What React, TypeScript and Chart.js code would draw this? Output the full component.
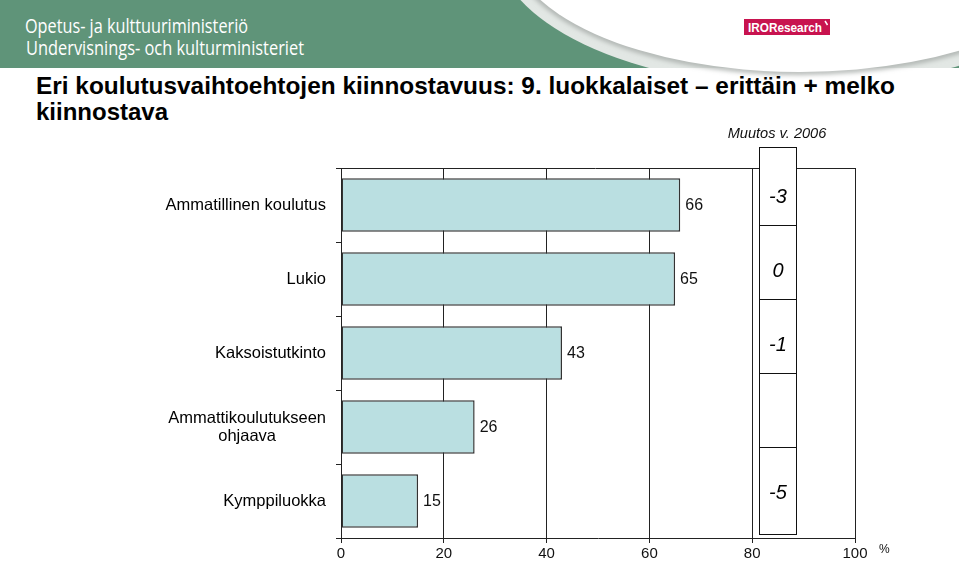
import React, { useEffect, useRef } from "react";
import { Chart, registerables } from "chart.js";

Chart.register(...registerables);

// ---- data ----
const categories: (string | string[])[] = [
  "Ammatillinen koulutus",
  "Lukio",
  "Kaksoistutkinto",
  ["Ammattikoulutukseen", "ohjaava"],
  "Kymppiluokka",
];
const values = [66, 65, 43, 26, 15];
const changes: (number | null)[] = [-3, 0, -1, null, -5];
const xTicks = [0, 20, 40, 60, 80, 100];
const changeHeader = "Muutos v. 2006";
const unitLabel = "%";
const titleLines = [
  "Eri koulutusvaihtoehtojen kiinnostavuus: 9. luokkalaiset – erittäin + melko",
  "kiinnostava",
];
const ministryLines = ["Opetus- ja kulttuuriministeriö", "Undervisnings- och kulturministeriet"];
const brand = "IROResearch";

const FONT = "'Liberation Sans', Arial, Helvetica, sans-serif";

const overlay = {
  id: "overlay",
  afterDraw(chart: any) {
    const { ctx, chartArea } = chart;
    const xs = chart.scales.x;
    const ys = chart.scales.y;
    ctx.save();

    // top border of plot
    ctx.strokeStyle = "#222";
    ctx.lineWidth = 1;
    const ty = Math.round(chartArea.top) + 0.5;
    ctx.beginPath();
    ctx.moveTo(chartArea.left - 5, ty);
    ctx.lineTo(chartArea.right, ty);
    ctx.stroke();

    // category labels
    ctx.fillStyle = "#000";
    ctx.font = `16.5px ${FONT}`;
    ctx.textBaseline = "middle";
    const rx = chartArea.left - 15;
    categories.forEach((lab, i) => {
      const cy = ys.getPixelForValue(i);
      const lines = Array.isArray(lab) ? lab : [lab];
      const w = Math.max(...lines.map((l) => ctx.measureText(l).width));
      const lh = 18;
      lines.forEach((l, j) => {
        const ly = cy + (j - (lines.length - 1) / 2) * lh;
        if (lines.length > 1) {
          ctx.textAlign = "center";
          ctx.fillText(l, rx - w / 2, ly);
        } else {
          ctx.textAlign = "right";
          ctx.fillText(l, rx, ly);
        }
      });
    });

    // value labels
    ctx.textAlign = "left";
    ctx.fillStyle = "#111";
    ctx.font = `16px ${FONT}`;
    values.forEach((v, i) => {
      ctx.fillText(String(v), xs.getPixelForValue(v) + 5, ys.getPixelForValue(i) + 1);
    });

    // change column
    const cl = Math.round(xs.getPixelForValue(81.4)) + 0.5;
    const cr = Math.round(xs.getPixelForValue(88.6)) + 0.5;
    const ct = Math.round(chartArea.top - 21) + 0.5;
    const cb = Math.round(chartArea.bottom - 4) + 0.5;
    ctx.fillStyle = "#fff";
    ctx.fillRect(cl, ct, cr - cl, cb - ct);
    ctx.strokeStyle = "#111";
    ctx.lineWidth = 1;
    ctx.strokeRect(cl, ct, cr - cl, cb - ct);
    for (let i = 1; i < categories.length; i++) {
      const by = Math.round((ys.getPixelForValue(i - 1) + ys.getPixelForValue(i)) / 2 - 17) + 0.5;
      ctx.beginPath();
      ctx.moveTo(cl, by);
      ctx.lineTo(cr, by);
      ctx.stroke();
    }
    ctx.fillStyle = "#000";
    ctx.font = `italic 20px ${FONT}`;
    ctx.textAlign = "center";
    changes.forEach((c, i) => {
      if (c === null) return;
      ctx.fillText(String(c), (cl + cr) / 2, ys.getPixelForValue(i) - 8);
    });

    // column header
    ctx.font = `italic 14.6px ${FONT}`;
    ctx.fillStyle = "#111";
    ctx.fillText(changeHeader, (cl + cr) / 2 - 1, chartArea.top - 34);

    // unit
    ctx.font = `12px ${FONT}`;
    ctx.textAlign = "left";
    ctx.fillText(unitLabel, chartArea.right + 24, chartArea.bottom + 12);

    ctx.restore();
  },
};

function BarChart() {
  const ref = useRef<HTMLCanvasElement | null>(null);
  useEffect(() => {
    if (!ref.current) return;
    const chart = new Chart(ref.current, {
      type: "bar",
      data: {
        labels: categories as any,
        datasets: [
          {
            data: values,
            backgroundColor: "#badfe1",
            borderColor: "#333",
            borderWidth: 1.5,
            borderSkipped: false,
            barPercentage: 0.72,
            categoryPercentage: 1,
          },
        ],
      },
      options: {
        indexAxis: "y",
        responsive: false,
        animation: false,
        devicePixelRatio: 1,
        layout: { padding: { top: 168, right: 104, left: 0, bottom: 0 } },
        plugins: { legend: { display: false }, tooltip: { enabled: false } },
        scales: {
          x: {
            min: 0,
            max: 100,
            afterBuildTicks: (s: any) => {
              s.ticks = xTicks.map((v) => ({ value: v }));
            },
            ticks: { font: { size: 15, family: FONT }, color: "#111", padding: 2 },
            grid: { color: "#222", lineWidth: 1, tickLength: 5 },
            border: { color: "#222" },
            afterFit: (s: any) => {
              s.height = 23;
            },
          },
          y: {
            grid: { offset: true, drawOnChartArea: false, tickLength: 5, color: "#222" },
            border: { color: "#222" },
            ticks: { display: false },
            afterFit: (s: any) => {
              s.width = 341;
            },
          },
        },
      } as any,
      plugins: [overlay],
    });
    return () => chart.destroy();
  }, []);
  return <canvas ref={ref} width={959} height={561} style={{ display: "block" }} />;
}

export default function App() {
  return (
    <div style={{ position: "absolute", left: 0, top: 0, width: 959, height: 561, background: "#fff", overflow: "hidden" }}>
      <svg width={959} height={140} style={{ position: "absolute", left: 0, top: 0 }}>
        <defs>
          <clipPath id="band">
            <rect x={0} y={0} width={959} height={68} />
          </clipPath>
          <clipPath id="band2">
            <rect x={0} y={0} width={959} height={80} />
          </clipPath>
          <filter id="blur" x="-20%" y="-20%" width="140%" height="140%">
            <feGaussianBlur stdDeviation="2.5" />
          </filter>
        </defs>
        <rect x={0} y={0} width={959} height={68} fill="#5f9479" />
        <g clipPath="url(#band)">
          <ellipse cx={800} cy={-58} rx={305} ry={145} fill="#e2e7e4" />
        </g>
        <g clipPath="url(#band2)">
          <ellipse cx={800} cy={-58} rx={290} ry={130} fill="none" stroke="#a5aaa7" strokeWidth={5} filter="url(#blur)" />
          <ellipse cx={800} cy={-58} rx={290} ry={130} fill="#fff" />
        </g>
        <text x={25} y={33} fill="#fff" fontFamily="'Open Sans', 'Noto Sans', sans-serif" fontSize={20} textLength={223} lengthAdjust="spacingAndGlyphs">
          {ministryLines[0]}
        </text>
        <text x={26} y={55} fill="#fff" fontFamily="'Open Sans', 'Noto Sans', sans-serif" fontSize={20} textLength={278} lengthAdjust="spacingAndGlyphs">
          {ministryLines[1]}
        </text>
        <rect x={744} y={19} width={86} height={16} fill="#c8134f" />
        <text x={748} y={31.5} fill="#fff" fontFamily={FONT} fontWeight="bold" fontSize={12.5} textLength={74} lengthAdjust="spacingAndGlyphs">
          {brand}
        </text>
        <line x1={825} y1={21} x2={827.5} y2={25} stroke="#fff" strokeWidth={1.5} />
        <text x={36} y={94} fill="#000" fontFamily={FONT} fontWeight="bold" fontSize={24} textLength={859} lengthAdjust="spacingAndGlyphs">
          {titleLines[0]}
        </text>
        <text x={36} y={120} fill="#000" fontFamily={FONT} fontWeight="bold" fontSize={24}>
          {titleLines[1]}
        </text>
      </svg>
      <div style={{ position: "absolute", left: 0, top: 0 }}>
        <BarChart />
      </div>
    </div>
  );
}
